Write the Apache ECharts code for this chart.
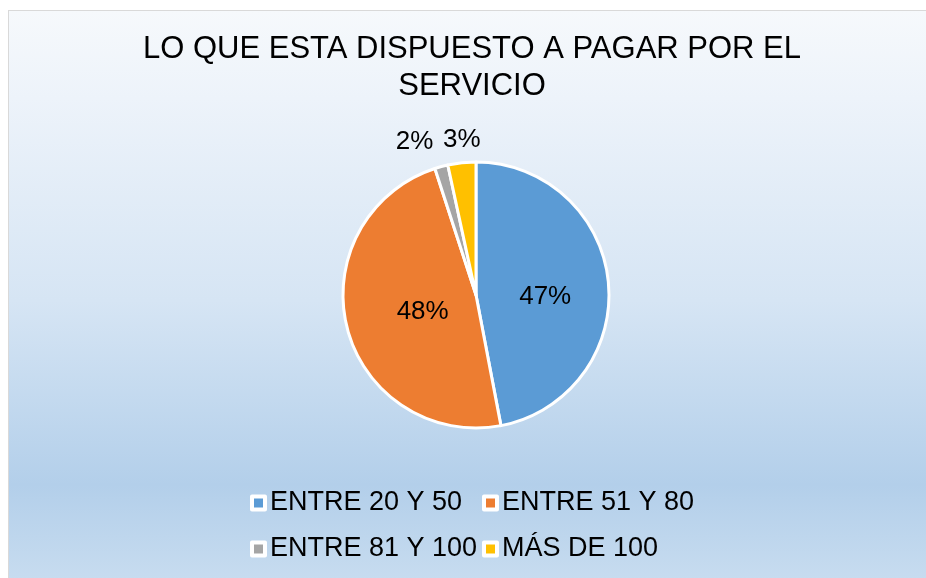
<!DOCTYPE html>
<html>
<head>
<meta charset="utf-8">
<script src="https://cdn.jsdelivr.net/npm/echarts@6/dist/echarts.min.js"></script>
<style>
    html, body { margin: 0; padding: 0; background: #fff; }
    #bg {
        position: absolute; left: 8px; top: 10px; width: 930px; height: 580px;
        border: 1px solid #d9d9d9; box-sizing: border-box;
        background: linear-gradient(to bottom, #f6f9fc 0%, #edf3fa 15%, #d6e5f4 50%, #b3cfea 82%, #c9ddf0 100%);
    }
    #chart { position: absolute; left: 0; top: 0; width: 926px; height: 578px; }
</style>
</head>
<body>
<div id="bg"></div>
<div id="chart"></div>
<script>
    // datos del gráfico
    const categorias = ['ENTRE 20 Y 50', 'ENTRE 51 Y 80', 'ENTRE 81 Y 100', 'MÁS DE 100'];
    const porcentajes = [47.0, 48.0, 1.6, 3.4];
    const colores = ['#5b9bd5', '#ed7d31', '#a5a5a5', '#ffc000'];
    const etiquetaFuera = [false, false, true, true];

    const fuente = '"Liberation Sans", Arial, sans-serif';

    let myChart = echarts.init(document.getElementById('chart'));

    let leyenda = function (items, left) {
        return {
            data: items,
            orient: 'vertical',
            left: left,
            top: 488,
            padding: 0,
            itemGap: 16,
            itemWidth: 13,
            itemHeight: 13,
            icon: 'rect',
            itemStyle: { borderColor: '#fff', borderWidth: 4 },
            textStyle: { fontFamily: fuente, fontSize: 27, color: '#000', lineHeight: 30 }
        };
    };

    myChart.setOption({
        animation: false,
        title: {
            text: 'LO QUE ESTA DISPUESTO A PAGAR POR EL\nSERVICIO',
            left: 472,
            top: 31,
            padding: 0,
            textAlign: 'center',
            textStyle: {
                fontFamily: fuente,
                fontSize: 31,
                fontWeight: 'normal',
                color: '#000',
                lineHeight: 37
            }
        },
        legend: [
            leyenda([categorias[0], categorias[2]], 250),
            leyenda([categorias[1], categorias[3]], 482)
        ],
        series: [
            {
                type: 'pie',
                center: [476, 295],
                radius: 133,
                startAngle: 90,
                clockwise: true,
                itemStyle: { borderColor: '#fff', borderWidth: 3 },
                label: {
                    fontFamily: fuente,
                    fontSize: 26,
                    color: '#000',
                    formatter: function (p) {
                        return Math.round(p.value) + '%';
                    }
                },
                labelLine: { show: false },
                // etiquetas pequeñas encima de su sector, como en Excel
                labelLayout: function (p) {
                    let r = p.rect;
                    if (p.dataIndex === 0) return { dy: 8 };
                    if (p.dataIndex === 1) return { dx: 14 };
                    if (p.dataIndex === 2) {
                        return { x: r.x, y: r.y - 22, align: 'right', verticalAlign: 'middle' };
                    }
                    return { x: r.x + r.width / 2, y: r.y - 21, align: 'center', verticalAlign: 'middle' };
                },
                data: categorias.map(function (c, i) {
                    return {
                        name: c,
                        value: porcentajes[i],
                        itemStyle: { color: colores[i] },
                        label: { position: etiquetaFuera[i] ? 'outside' : 'inside' }
                    };
                })
            }
        ]
    });
</script>
</body>
</html>
